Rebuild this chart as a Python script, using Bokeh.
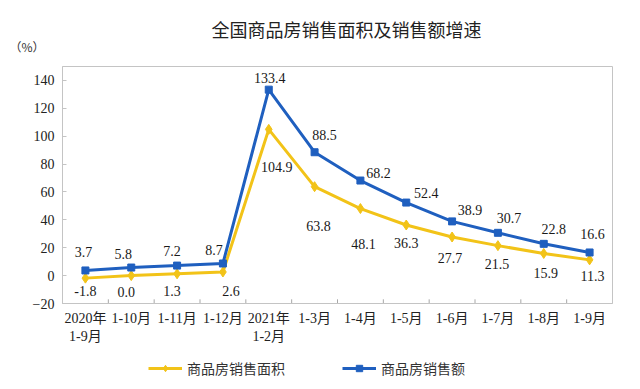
import math
from bokeh.plotting import figure
from bokeh.layouts import column
from bokeh.models import (FactorRange, Range1d, Legend, LegendItem, Label,
                          ColumnDataSource, FixedTicker, LinearAxis)
from bokeh.transform import dodge
from bokeh.core.properties import value
from bokeh.embed import file_html
from bokeh.resources import INLINE

# ---------------- data ----------------
categories = ["2020年\n1-9月", "1-10月", "1-11月", "1-12月", "2021年\n1-2月",
              "1-3月", "1-4月", "1-5月", "1-6月", "1-7月", "1-8月", "1-9月"]
area_growth = [-1.8, 0.0, 1.3, 2.6, 104.9, 63.8, 48.1, 36.3, 27.7, 21.5, 15.9, 11.3]
sales_growth = [3.7, 5.8, 7.2, 8.7, 133.4, 88.5, 68.2, 52.4, 38.9, 30.7, 22.8, 16.6]
y_ticks = [-20, 0, 20, 40, 60, 80, 100, 120, 140]
series_names = ["商品房销售面积", "商品房销售额"]
title_text = "全国商品房销售面积及销售额增速"
unit_text = "（%）"

# data-label placement (screen px offsets from each point)
area_dx = [0, -5, -5, 8, 8, 4, 3, 0, -2, -1, 2, 3]
area_dy = [13, 16, 17, 19, 38, 39, 35, 18, 21, 18, 20, 16]
sales_dx = [-2, -8, -5, -9, 1, 10, 18, 20, 18, 11, 10, 3]
sales_dy = [-18, -14, -15, -13, -12, -17, -8, -10, -11, -15, -15, -18]

YELLOW = "#F2C318"
BLUE = "#1F5FBF"
GREY = "#C4C4C4"
SERIF = "Liberation Serif, Noto Sans CJK SC"
CJK = "Noto Sans CJK SC"
W = 640

src = ColumnDataSource(dict(
    cat=categories,
    area=area_growth,
    sales=sales_growth,
    area_txt=[f"{v:.1f}" for v in area_growth],
    sales_txt=[f"{v:.1f}" for v in sales_growth],
    adx=area_dx, ady=area_dy, sdx=sales_dx, sdy=sales_dy,
))
n_b = len(categories) - 1
bsrc = ColumnDataSource(dict(cat=categories[:-1],
                             y0=[y_ticks[0]] * n_b,
                             y1=[y_ticks[0] + 3] * n_b))

# ---------------- title strip (frame aligned with the chart frame) ----------------
t = figure(width=W, height=66, x_range=Range1d(0, 1), y_range=Range1d(0, 66),
           x_axis_type=None, y_axis_type=None, min_border=0,
           outline_line_color=None, output_backend="svg", toolbar_location=None)
t.add_layout(Label(x=149, y=38, x_units="screen", y_units="screen", text=title_text,
                   text_align="left", text_baseline="middle", text_font=CJK,
                   text_font_size="18px", text_color="#222222"))
unit_axis = LinearAxis(ticker=FixedTicker(ticks=[20]),
                       major_label_overrides={20: unit_text},
                       axis_line_color=None, major_tick_line_color=None,
                       minor_tick_line_color=None, major_label_standoff=12,
                       major_label_text_font=CJK, major_label_text_font_size="12px",
                       major_label_text_color="#333333")
t.add_layout(unit_axis, "left")

# ---------------- main chart ----------------
p = figure(x_range=FactorRange(*categories, range_padding=0),
           y_range=Range1d(-20, 150),
           width=W, height=293,
           min_border_left=62, min_border_right=28,
           min_border_top=0, min_border_bottom=56,
           title=None,
           output_backend="svg", toolbar_location=None,
           background_fill_color="white", border_fill_color="white")

p.outline_line_color = GREY
p.outline_line_width = 1
p.xgrid.visible = False
p.ygrid.visible = False

p.yaxis.ticker = FixedTicker(ticks=y_ticks)
p.yaxis.major_tick_in = 4
p.yaxis.major_tick_out = 0
p.yaxis.minor_tick_line_color = None
p.yaxis.major_tick_line_color = GREY
p.yaxis.axis_line_color = GREY
p.yaxis.major_label_standoff = 8
p.yaxis.major_label_text_font = SERIF
p.yaxis.major_label_text_font_size = "14px"
p.yaxis.major_label_text_color = "#222222"

p.xaxis.major_tick_line_color = None
p.xaxis.axis_line_color = GREY
p.xaxis.major_label_standoff = 1
p.xaxis.major_label_text_font = SERIF
p.xaxis.major_label_text_font_size = "14px"
p.xaxis.major_label_text_color = "#222222"

# category boundary tick marks (inside the frame)
p.segment(x0=dodge("cat", 0.5, range=p.x_range), y0="y0",
          x1=dodge("cat", 0.5, range=p.x_range), y1="y1",
          source=bsrc, line_color="#A8A8A8", line_width=1)

p.line("cat", "area", source=src, line_color=YELLOW, line_width=3)
p.scatter("cat", "area", source=src, marker="diamond", size=10,
          fill_color=YELLOW, line_color=YELLOW)
p.line("cat", "sales", source=src, line_color=BLUE, line_width=3)
p.scatter("cat", "sales", source=src, marker="square", size=7,
          fill_color=BLUE, line_color=BLUE)

p.text("cat", "area", text="area_txt", source=src, x_offset="adx", y_offset="ady",
       text_align="center", text_baseline="middle", text_font=value(SERIF),
       text_font_size="14px", text_color="#1a1a1a")
p.text("cat", "sales", text="sales_txt", source=src, x_offset="sdx", y_offset="sdy",
       text_align="center", text_baseline="middle", text_font=value(SERIF),
       text_font_size="14px", text_color="#1a1a1a")

# ---------------- legend strip ----------------
# same series renderers, drawn outside this strip's visible y range; only the legend shows
g = figure(width=W, height=28, x_range=p.x_range, y_range=Range1d(1000, 1001),
           x_axis_type=None, y_axis_type=None, min_border=0,
           outline_line_color=None, output_backend="svg", toolbar_location=None)
ga = g.line("cat", "area", source=src, line_color=YELLOW, line_width=3)
gsa = g.scatter("cat", "area", source=src, marker="diamond", size=10,
                fill_color=YELLOW, line_color=YELLOW)
gb = g.line("cat", "sales", source=src, line_color=BLUE, line_width=3)
gsb = g.scatter("cat", "sales", source=src, marker="square", size=7,
                fill_color=BLUE, line_color=BLUE)
legend = Legend(items=[LegendItem(label=series_names[0], renderers=[ga, gsa]),
                       LegendItem(label=series_names[1], renderers=[gb, gsb])],
                orientation="horizontal", location=(86, 9),
                padding=0, margin=0, spacing=57, glyph_width=34, glyph_height=16,
                label_standoff=5, label_height=16,
                border_line_color=None, background_fill_alpha=0,
                label_text_font=CJK, label_text_font_size="14px",
                label_text_color="#333333")
g.add_layout(legend, "center")

layout = column(t, p, g, spacing=0)
open("out.html", "w").write(file_html(layout, INLINE))
